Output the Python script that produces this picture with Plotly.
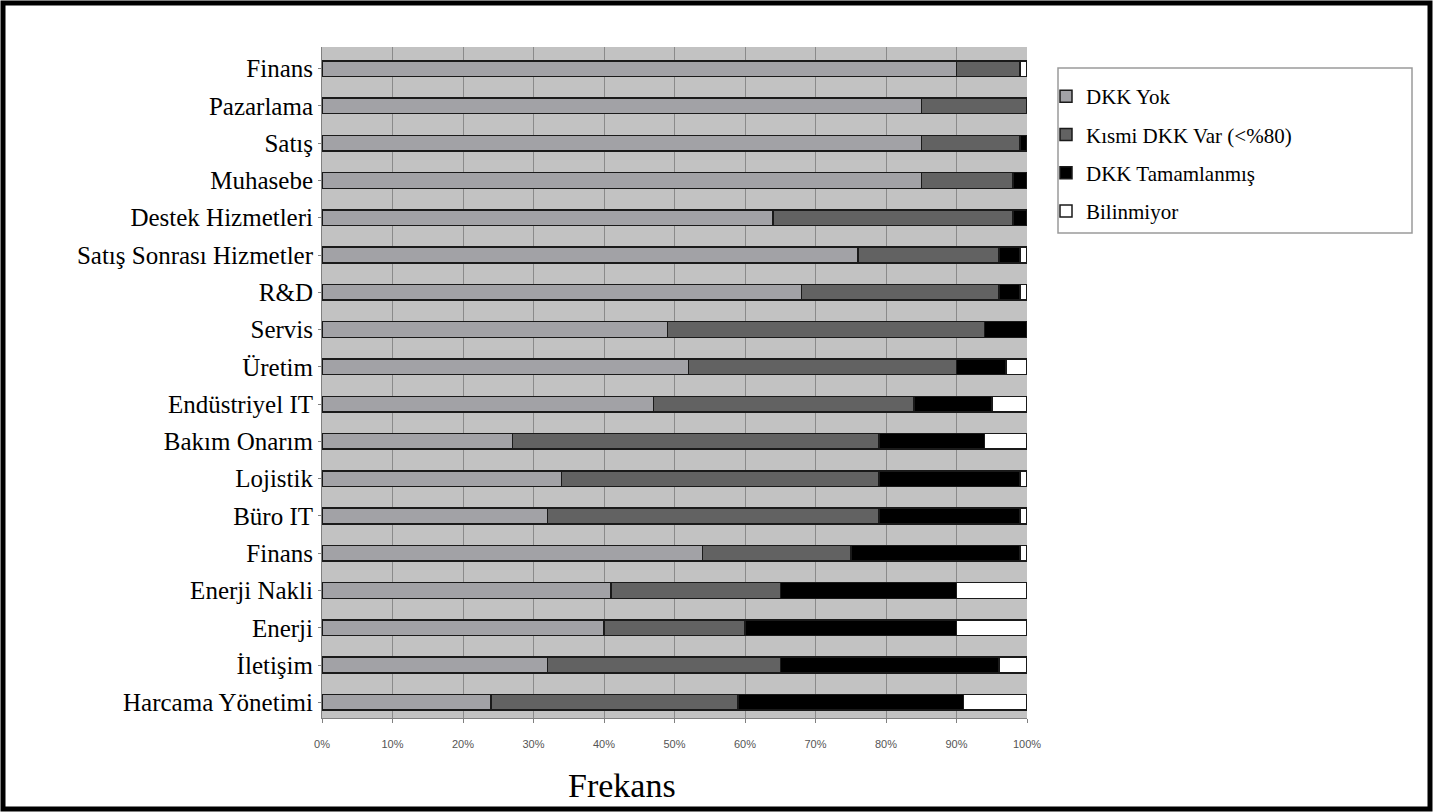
import plotly.graph_objects as go

categories = ["Finans", "Pazarlama", "Satış", "Muhasebe", "Destek Hizmetleri",
              "Satış Sonrası Hizmetler", "R&D", "Servis", "Üretim", "Endüstriyel IT",
              "Bakım Onarım", "Lojistik", "Büro IT", "Finans", "Enerji Nakli",
              "Enerji", "İletişim", "Harcama Yönetimi"]

dkk_yok =        [90, 85, 85, 85, 64, 76, 68, 49, 52, 47, 27, 34, 32, 54, 41, 40, 32, 24]
kismi_dkk =      [9, 15, 14, 13, 34, 20, 28, 45, 38, 37, 52, 45, 47, 21, 24, 20, 33, 35]
dkk_tamam =      [0, 0, 1, 2, 2, 3, 3, 6, 7, 11, 15, 20, 20, 24, 25, 30, 31, 32]
bilinmiyor =     [1, 0, 0, 0, 0, 1, 1, 0, 3, 5, 6, 1, 1, 1, 10, 10, 4, 9]

series_names = ["DKK Yok", "Kısmi DKK Var (<%80)", "DKK Tamamlanmış", "Bilinmiyor"]
series_values = [dkk_yok, kismi_dkk, dkk_tamam, bilinmiyor]
series_colors = ["#a2a2a6", "#626262", "#000000", "#ffffff"]

x_ticks = [0, 10, 20, 30, 40, 50, 60, 70, 80, 90, 100]

y_pos = list(range(len(categories)))

fig = go.Figure()
for i, (name, vals, col) in enumerate(zip(series_names, series_values, series_colors)):
    fig.add_trace(go.Bar(
        y=y_pos, x=vals, name=name, orientation="h",
        marker=dict(color=col, line=dict(color="#1a1a1a", width=1.5)),
        width=0.42, legendgroup=f"g{i}",
    ))

W, H = 1433, 812
L, R, T, B = 322, 1027, 47, 718

def px_x(p):
    return (p - L) / (R - L)

def px_y(p):
    return 1 - (p - T) / (B - T)

fig.update_layout(
    width=W, height=H,
    margin=dict(l=L, r=W - R, t=T, b=H - B, pad=0),
    barmode="stack",
    plot_bgcolor="#c2c2c2",
    paper_bgcolor="#ffffff",
    font=dict(family="Liberation Serif", color="#000000"),
    showlegend=True,
    legend=dict(
        x=px_x(1046), y=px_y(76), xanchor="left", yanchor="top",
        bgcolor="rgba(0,0,0,0)", borderwidth=0,
        font=dict(family="Liberation Serif", size=21, color="#000"),
        traceorder="grouped", tracegroupgap=8,
        itemwidth=30,
    ),
    xaxis=dict(
        range=[0, 100], tickvals=x_ticks,
        ticktext=[f"{v}%" for v in x_ticks],
        tickfont=dict(family="Liberation Sans", size=11, color="#555"),
        showgrid=True, gridcolor="#8a8a8a", gridwidth=1,
        showline=True, linecolor="#808080", linewidth=1,
        ticks="outside", ticklen=4, tickcolor="#808080",
        ticklabelstandoff=12,
        zeroline=False, fixedrange=True,
    ),
    yaxis=dict(
        range=[17.42, -0.58], tickvals=y_pos, ticktext=categories,
        tickfont=dict(family="Liberation Serif", size=25, color="#000"),
        showgrid=False, zeroline=False,
        showline=True, linecolor="#808080", linewidth=1,
        ticks="outside", ticklen=3, tickcolor="#808080",
        fixedrange=True,
    ),
    annotations=[dict(
        text="Frekans", xref="paper", yref="paper",
        x=px_x(622), y=px_y(785), xanchor="center", yanchor="middle",
        showarrow=False,
        font=dict(family="Liberation Serif", size=34, color="#000"),
    )],
    shapes=[
        dict(
            type="rect", xref="paper", yref="paper",
            x0=px_x(1058), x1=px_x(1412), y0=px_y(233), y1=px_y(68),
            line=dict(color="#9a9a9a", width=1.5), fillcolor="#ffffff",
            layer="above",
        ),
        dict(
            type="rect", xref="paper", yref="paper",
            x0=px_x(3), x1=px_x(1430), y0=px_y(809), y1=px_y(3),
            line=dict(color="#000000", width=5), fillcolor="rgba(0,0,0,0)",
            layer="above",
        ),
    ],
)

fig.write_html("out.html", config={"displayModeBar": False},
               post_script="document.body.style.margin='0px';")
